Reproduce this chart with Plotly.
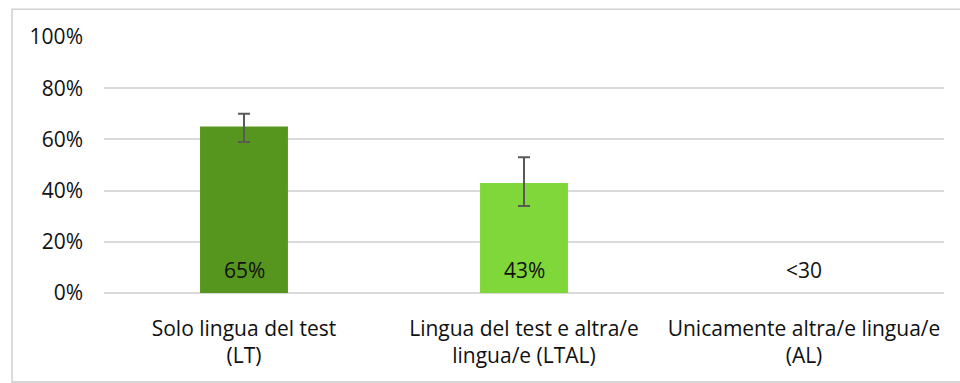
import plotly.graph_objects as go

# Share of students by language spoken at home
categories = [
    "Solo lingua del test<br>(LT)",
    "Lingua del test e altra/e<br>lingua/e (LTAL)",
    "Unicamente altra/e lingua/e<br>(AL)",
]
values = [65, 43, None]
err_plus = [5, 10, None]
err_minus = [6, 9, None]
value_labels = ["65%", "43%", "<30"]
bar_colors = ["#56961F", "#80D73A", "#80D73A"]
y_ticks = [0, 20, 40, 60, 80, 100]
y_tick_labels = ["0%", "20%", "40%", "60%", "80%", "100%"]

FONT = "Open Sans"
TXT = "#111111"

fig = go.Figure()
fig.add_trace(go.Bar(
    x=categories,
    y=values,
    width=0.314,
    marker=dict(color=bar_colors, line=dict(width=0)),
    error_y=dict(
        type="data",
        symmetric=False,
        array=err_plus,
        arrayminus=err_minus,
        color="#595959",
        thickness=2,
        width=6,
    ),
    hoverinfo="skip",
))

# value labels near the base of each category
for cat, lab in zip(categories, value_labels):
    fig.add_annotation(
        x=cat, y=0, text=lab, showarrow=False,
        yanchor="middle", yshift=23,
        font=dict(family=FONT, size=21, color=TXT),
    )

# light frame around the chart area
fig.add_shape(
    type="rect", xref="paper", yref="paper",
    x0=-0.1095, x1=1.03, y0=-0.3477, y1=1.109,
    line=dict(color="#C9C9C9", width=1.3),
    fillcolor="rgba(0,0,0,0)", layer="below",
)

fig.update_layout(
    width=960, height=383,
    margin=dict(l=104, r=16, t=37, b=90),
    paper_bgcolor="white", plot_bgcolor="white",
    showlegend=False,
    font=dict(family=FONT, size=21, color=TXT),
    xaxis=dict(
        showgrid=False, showline=False, zeroline=False,
        ticks="", ticklabelstandoff=21,
        tickfont=dict(family=FONT, size=21, color=TXT),
        fixedrange=True,
    ),
    yaxis=dict(
        range=[0, 100],
        tickvals=y_ticks, ticktext=y_tick_labels,
        showgrid=True, gridcolor="#D9D9D9", gridwidth=1.5,
        zeroline=True, zerolinecolor="#D9D9D9", zerolinewidth=1.5,
        showline=False, ticks="",
        ticklabelstandoff=20,
        tickfont=dict(family=FONT, size=21, color=TXT),
        fixedrange=True,
    ),
)

fig.write_html("out.html")
